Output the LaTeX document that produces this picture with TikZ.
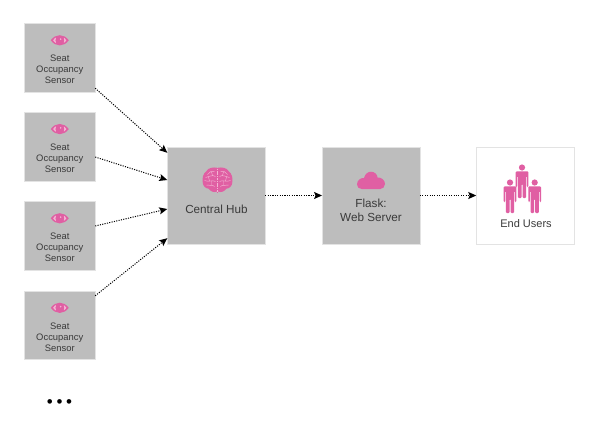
\documentclass[tikz,border=0pt]{standalone}
\usepackage{fontspec}
\setmainfont{Liberation Sans}
\usetikzlibrary{arrows.meta,calc}
\definecolor{boxgray}{HTML}{BDBDBD}
\definecolor{iconpink}{HTML}{E05FA3}
\definecolor{brainline}{HTML}{F3B4D4}
\definecolor{textdark}{HTML}{3A3A3A}
\definecolor{paleedge}{HTML}{E3E3E3}
\tikzset{
  sensorbox/.style={rectangle,fill=boxgray,draw=paleedge,line width=0.4pt,inner sep=0pt,minimum width=70.5pt,minimum height=68.5pt},
  hubbox/.style={rectangle,fill=boxgray,draw=paleedge,line width=0.4pt,inner sep=0pt,minimum width=97.5pt,minimum height=97pt},
  userbox/.style={rectangle,fill=white,draw=paleedge,line width=1pt,inner sep=0pt,minimum width=97.5pt,minimum height=97pt},
  smalltext/.style={text=textdark,font=\fontsize{9.4}{11}\selectfont,align=center,inner sep=0pt},
  bigtext/.style={text=textdark,font=\fontsize{11.7}{14}\selectfont,align=center,inner sep=0pt},
  flow/.style={draw=black,line width=1pt,dash pattern=on 1.1pt off 1.3pt,-{Stealth[length=8pt,width=7pt,inset=1.5pt]}},
  pics/person/.style={code={
    \fill[iconpink] (0,-14.5) circle (3.1);
    \fill[iconpink,rounded corners=1pt] (-6.4,-10.6) -- (6.4,-10.6) -- (6.4,5) -- (4.9,5) -- (4.9,-6) -- (4.2,-6) -- (4.2,16) -- (0.5,16) -- (0.5,2) -- (-0.5,2) -- (-0.5,16) -- (-4.2,16) -- (-4.2,-6) -- (-4.9,-6) -- (-4.9,5) -- (-6.4,5) -- cycle;
  }},
  pics/eyeicon/.style={code={
    \fill[iconpink] (-9,0) .. controls (-4,-6.8) and (4,-6.8) .. (9,0) .. controls (4,6.8) and (-4,6.8) .. (-9,0) -- cycle;
    \fill[brainline] (-6.6,0) .. controls (-5.5,-1.6) and (-4.8,-2.2) .. (-4,-2.6) -- (-4,2.6) .. controls (-4.8,2.2) and (-5.5,1.6) .. (-6.6,0) -- cycle;
    \fill[brainline] (6.6,0) .. controls (5.5,-1.6) and (4.8,-2.2) .. (4,-2.6) -- (4,2.6) .. controls (4.8,2.2) and (5.5,1.6) .. (6.6,0) -- cycle;
    \fill[iconpink] (0,0) circle (4.3);
    \fill[brainline] (0.9,-1.2) circle (0.9);
  }}
}
\begin{document}
\begin{tikzpicture}[x=1pt,y=-1pt]
\useasboundingbox (0,0) rectangle (612,424);
% sensors
\foreach \n/\cy in {1/57.75,2/146.5,3/235.75,4/325.25}{
  \node[sensorbox] (s\n) at (59.75,\cy) {};
  \pic at ($(s\n.north)+(0,17)$) {eyeicon};
  \node[smalltext] (st\n) at ($(s\n.north)+(0,46.2)$) {Seat\\[-0.2pt]Occupancy\\[-0.2pt]Sensor};
}
% main boxes
\node[hubbox] (hub) at (216.25,195.5) {};
\node[hubbox] (flask) at (371,195.5) {};
\node[userbox] (users) at (525.5,195.5) {};
\node[bigtext] (hubt) at (216.5,209) {Central Hub};
\node[bigtext] (flaskt) at (371,210) {Flask:\\Web Server};
\node[bigtext,font=\fontsize{11}{14}\selectfont] (userst) at (526,224) {End Users};
% brain
\begin{scope}[shift={(217.5,180.5)}]
  \fill[iconpink] (-0.6,-12.5) rectangle (0.6,12);
  \foreach \sx in {-1,1}{
    \begin{scope}[xscale=\sx]
      \fill[iconpink] (0.5,-12.8) .. controls (4,-13.4) and (9,-13) .. (11,-9.5) .. controls (14.5,-7) and (15.5,-2) .. (14.8,1.5) .. controls (15,5) and (12,8) .. (9,8.2) .. controls (7,11) and (3,12.4) .. (0.5,11) -- cycle;
      \draw[brainline,line width=0.45pt] (3,-9) .. controls (6,-10) and (8,-8.5) .. (10,-6)
        (2,-4) .. controls (5,-6) and (8,-4) .. (12,-3)
        (2,1) .. controls (5,-1) and (9,2) .. (13,0)
        (3,6) .. controls (5,3.5) and (8,6) .. (11,4.5)
        (6,-8.5) -- (5,-5) (9,-3.5) -- (8,0.5) (6,0.5) -- (6,4.5);
    \end{scope}
  }
  \draw[brainline,line width=0.6pt,dash pattern=on 1.6pt off 0.8pt] (0,-12) -- (0,11);
\end{scope}
% cloud
\begin{scope}[shift={(371,180.5)}]
  \fill[iconpink] (-14,4) .. controls (-14,-0.5) and (-10,-2.8) .. (-7,-2.5) .. controls (-6,-7) and (-2.5,-8.8) .. (0,-8.8) .. controls (3.5,-8.8) and (6.5,-6) .. (6.5,-3) .. controls (10.5,-3.5) and (14,0) .. (14,3.5) .. controls (14,6.5) and (11.5,8.6) .. (9,8.6) -- (-9,8.6) .. controls (-12,8.6) and (-14,6.5) .. (-14,4) -- cycle;
\end{scope}
% people
\pic at (522,182) {person};
\pic at (510,197) {person};
\pic at (534.7,197) {person};
% ellipsis
\node[inner sep=0pt,text=black,font=\fontsize{17}{17}\selectfont] (more) at (59.5,404) {•\hspace{3.6pt}•\hspace{3.6pt}•};
% connectors
\draw[flow] ([yshift=4pt]s1.south east) -- ([yshift=-6pt]hub.north west);
\draw[flow] ([yshift=-10.5pt]s2.east) -- ([yshift=15.5pt]hub.west);
\draw[flow] ([yshift=9.75pt]s3.east) -- ([yshift=-13.5pt]hub.west);
\draw[flow] ([yshift=-5pt]s4.north east) -- ([yshift=6pt]hub.south west);
\draw[flow] (hub.east) -- (flask.west);
\draw[flow] (flask.east) -- (users.west);
\end{tikzpicture}
\end{document}
